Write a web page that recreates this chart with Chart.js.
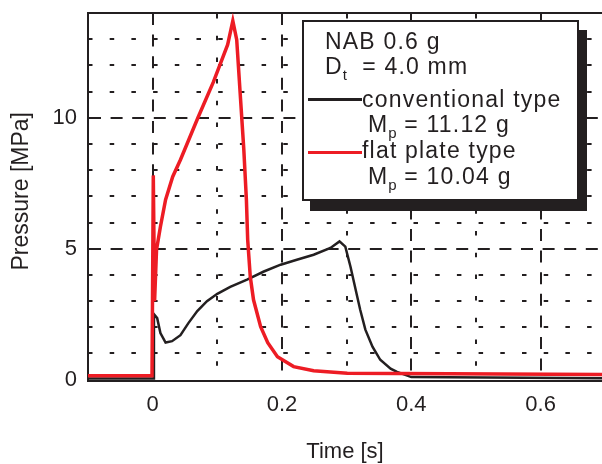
<!DOCTYPE html>
<html>
<head>
<meta charset="utf-8">
<script src="https://cdn.jsdelivr.net/npm/chart.js@4/dist/chart.umd.min.js"></script>
<style>
  html, body { margin: 0; padding: 0; background: #fff; }
  #wrap { position: relative; width: 602px; height: 464px; overflow: hidden; }
  #legend { position: absolute; left: 302px; top: 20px; width: 273px; height: 177px;
            border: 2px solid #231f20; background: #fff; box-shadow: 8px 10px 0 #231f20; }
  .lg { position: absolute; font-family: 'Liberation Sans', Arial, sans-serif; font-size: 23px;
        line-height: 23px; letter-spacing: 1.2px; color: #231f20; white-space: nowrap; }
  .lg sub { font-size: 15px; vertical-align: -6px; line-height: 0; letter-spacing: 0; }
  .sample { position: absolute; height: 0; }
</style>
</head>
<body>
<div id="wrap">
  <canvas id="chart" width="602" height="464"></canvas>
  <div id="legend"></div>
</div>
<script>
// conventional type (black)
const timeConv = [-0.1, 0.0, 0.001, 0.002, 0.007, 0.012, 0.020, 0.030, 0.043, 0.055, 0.069, 0.084,
  0.100, 0.120, 0.146, 0.172, 0.198, 0.223, 0.249, 0.275, 0.289, 0.298, 0.306, 0.314, 0.321,
  0.329, 0.340, 0.352, 0.368, 0.378, 0.400, 0.700];
const pressConv = [0.05, 0.05, 0.05, 2.5, 2.35, 1.78, 1.42, 1.47, 1.70, 2.15, 2.62, 3.00,
  3.28, 3.54, 3.82, 4.13, 4.39, 4.58, 4.77, 5.03, 5.28, 5.08, 4.31, 3.43, 2.67,
  1.91, 1.26, 0.76, 0.42, 0.30, 0.10, 0.05];

// flat plate type (red)
const timeFlat = [-0.1, -0.001, 0.001, 0.003, 0.006, 0.012, 0.020, 0.031, 0.043, 0.070, 0.094,
  0.116, 0.124, 0.130, 0.136, 0.141, 0.145, 0.147, 0.151, 0.156, 0.167, 0.178, 0.193,
  0.218, 0.249, 0.301, 0.700];
const pressFlat = [0.15, 0.15, 7.8, 3.0, 4.96, 5.84, 6.87, 7.75, 8.40, 10.0, 11.37,
  12.79, 13.70, 12.98, 10.69, 8.78, 6.87, 5.34, 3.93, 3.05, 2.02, 1.41, 0.88,
  0.50, 0.34, 0.25, 0.20];

const xMajor = [0, 0.2, 0.4, 0.6];
const xMinor = [0.1, 0.3, 0.5];
const yMajor = [0, 5, 10];
const yMinor = [1, 2, 3, 4, 6, 7, 8, 9, 11, 12, 13];

const legendLines = [
  { html: 'NAB 0.6 g', left: 325, top: 30 },
  { html: 'D<sub>t</sub>&nbsp; = 4.0 mm', left: 325, top: 55 },
  { html: 'conventional type', left: 362, top: 88, color: '#231f20', y: 99 },
  { html: 'M<sub>p</sub> = 11.12 g', left: 368, top: 113 },
  { html: 'flat plate type', left: 362, top: 139, color: '#ed1c24', y: 152 },
  { html: 'M<sub>p</sub> = 10.04 g', left: 368, top: 165 }
];

const FONT = "'Liberation Sans', Arial, sans-serif";
const INK = '#231f20';
const RED = '#ed1c24';

const toPoints = (xs, ys) => xs.map((x, i) => ({ x, y: ys[i] }));
const setTicks = vals => scale => { scale.ticks = vals.map(v => ({ value: v })); };

new Chart(document.getElementById('chart'), {
  type: 'line',
  data: {
    datasets: [
      { label: 'flat plate type', data: toPoints(timeFlat, pressFlat), borderColor: RED,
        borderWidth: 3.5, pointRadius: 0, tension: 0, order: 0 },
      { label: 'conventional type', data: toPoints(timeConv, pressConv), borderColor: INK,
        borderWidth: 2.5, pointRadius: 0, tension: 0, order: 1 }
    ]
  },
  options: {
    responsive: false,
    animation: false,
    devicePixelRatio: 1,
    layout: { padding: { top: 13, left: 0, right: 0, bottom: 0 } },
    plugins: { legend: { display: false }, tooltip: { enabled: false } },
    scales: {
      x: {
        type: 'linear', min: -0.1, max: 0.695,
        afterBuildTicks: setTicks(xMajor),
        afterFit: s => { s.height = 83; s.paddingLeft = 0; s.paddingRight = 0; },
        ticks: { font: { family: FONT, size: 22 }, color: INK, padding: 11, autoSkip: false, maxRotation: 0 },
        grid: { color: INK, lineWidth: 2, drawTicks: false },
        border: { display: true, color: INK, width: 2, dash: [12, 9.6] },
        title: { display: true, text: 'Time [s]', color: INK,
                 font: { family: FONT, size: 22, lineHeight: 1 }, padding: { top: 0, bottom: 1 } }
      },
      xm: {
        type: 'linear', position: 'top', min: -0.1, max: 0.695,
        afterBuildTicks: setTicks(xMinor),
        afterFit: s => { s.height = 0; s.paddingLeft = 0; s.paddingRight = 0; },
        ticks: { display: false },
        grid: { color: INK, lineWidth: 2, drawTicks: false },
        border: { display: true, color: INK, width: 2, dash: [4.5, 17.2] }
      },
      y: {
        type: 'linear', min: -0.05, max: 14,
        afterBuildTicks: setTicks(yMajor),
        afterFit: s => { s.width = 88; s.paddingTop = 0; s.paddingBottom = 0; },
        ticks: { font: { family: FONT, size: 22 }, color: INK, padding: 11, autoSkip: false },
        grid: { color: c => c.tick && c.tick.value === 0 ? 'rgba(0,0,0,0)' : INK, lineWidth: 2, drawTicks: false },
        border: { display: true, color: INK, width: 2, dash: [12, 9.6] },
        title: { display: true, text: '\u2002Pressure [MPa]', color: INK,
                 font: { family: FONT, size: 23, lineHeight: 1 }, padding: { top: 10, bottom: 0 } }
      },
      ym: {
        type: 'linear', position: 'right', min: -0.05, max: 14,
        afterBuildTicks: setTicks(yMinor),
        afterFit: s => { s.width = 0; s.paddingTop = 0; s.paddingBottom = 0; },
        ticks: { display: false },
        grid: { color: INK, lineWidth: 2, drawTicks: false },
        border: { display: false, dash: [4.5, 17.2] }
      }
    }
  }
});

const wrap = document.getElementById('wrap');
legendLines.forEach(l => {
  const t = document.createElement('div');
  t.className = 'lg';
  t.style.left = l.left + 'px';
  t.style.top = l.top + 'px';
  t.innerHTML = l.html;
  wrap.appendChild(t);
  if (l.color) {
    const s = document.createElement('div');
    s.className = 'sample';
    s.style.left = '308px';
    s.style.width = (l.left - 308) + 'px';
    s.style.top = (l.y - 1.5) + 'px';
    s.style.borderTop = '3px solid ' + l.color;
    wrap.appendChild(s);
  }
});
</script>
</body>
</html>
